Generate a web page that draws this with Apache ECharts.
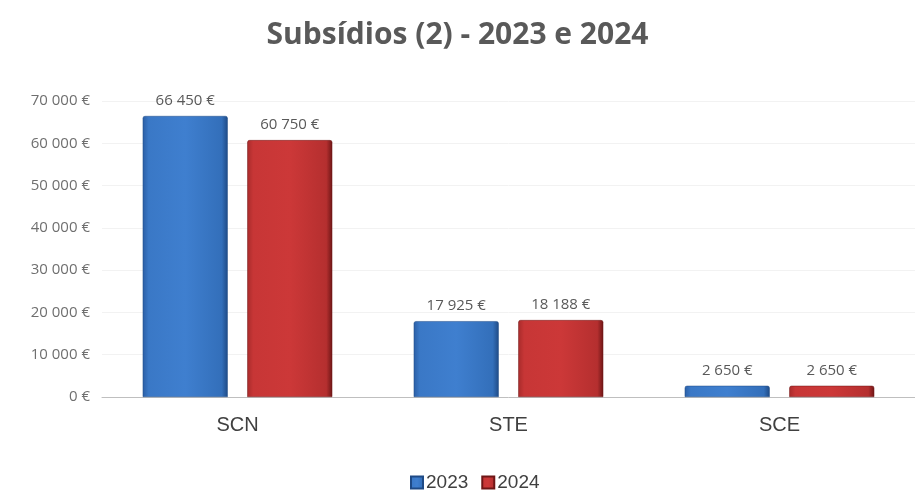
<!DOCTYPE html>
<html>
<head>
<meta charset="utf-8">
<script src="https://cdn.jsdelivr.net/npm/echarts@6/dist/echarts.min.js"></script>
<style>
html,body{margin:0;padding:0;background:#fff;}
#chart{width:915px;height:490px;}
</style>
</head>
<body>
<div id="chart"></div>
<script>
const categories = ['SCN', 'STE', 'SCE'];
const seriesNames = ['2023', '2024'];
const values2023 = [66450, 17925, 2650];
const values2024 = [60750, 18188, 2650];
const yTicks = [0, 10000, 20000, 30000, 40000, 50000, 60000, 70000];

function fmt(v) {
  return String(v).replace(/\B(?=(\d{3})+(?!\d))/g, ' ') + ' €';
}

const blueGrad = new echarts.graphic.LinearGradient(0, 0, 1, 0, [
  {offset: 0, color: '#2b5fa6'},
  {offset: 0.07, color: '#3a78c6'},
  {offset: 0.5, color: '#3f7fcf'},
  {offset: 0.93, color: '#336fba'},
  {offset: 1, color: '#1f4a85'}
]);
const redGrad = new echarts.graphic.LinearGradient(0, 0, 1, 0, [
  {offset: 0, color: '#a82b2b'},
  {offset: 0.07, color: '#c73636'},
  {offset: 0.5, color: '#cc3838'},
  {offset: 0.93, color: '#b52f2f'},
  {offset: 1, color: '#6e1616'}
]);

const labelStyle = {
  show: true,
  position: 'top',
  distance: 8,
  color: '#595959',
  fontSize: 15,
  fontFamily: 'Open Sans, sans-serif',
  formatter: p => fmt(p.value)
};

const chart = echarts.init(document.getElementById('chart'));
chart.setOption({
  animation: false,
  backgroundColor: '#fff',
  title: {
    text: 'Subsídios (2) - 2023 e 2024',
    left: 'center',
    top: 15,
    textStyle: {
      color: '#595959',
      fontSize: 30,
      fontWeight: 'bold',
      fontFamily: 'Open Sans, sans-serif'
    }
  },
  legend: {
    top: 473,
    left: 410,
    padding: 0,
    itemWidth: 12,
    itemHeight: 12,
    itemGap: 13,
    icon: 'rect',
    data: seriesNames,
    textStyle: {
      color: '#404040',
      fontSize: 19,
      padding: [0, 0, 0, -2],
      fontFamily: 'Liberation Sans Narrow, Arial Narrow, sans-serif'
    }
  },
  grid: {
    left: 102,
    top: 101,
    width: 820,
    height: 296,
    containLabel: false
  },
  xAxis: {
    type: 'category',
    data: categories,
    axisLine: {lineStyle: {color: '#bfbfbf', width: 1}},
    axisTick: {show: false},
    axisLabel: {
      color: '#404040',
      fontSize: 20,
      margin: 18,
      fontFamily: 'Liberation Sans Narrow, Arial Narrow, sans-serif'
    }
  },
  yAxis: {
    type: 'value',
    min: 0,
    max: 70000,
    interval: 10000,
    axisLine: {show: false},
    axisTick: {show: false},
    splitLine: {lineStyle: {color: '#f2f2f2'}},
    axisLabel: {
      color: '#6f6f6f',
      fontSize: 15,
      margin: 12,
      fontFamily: 'Open Sans, sans-serif',
      formatter: v => yTicks.includes(v) ? fmt(v) : ''
    }
  },
  series: [
    {
      name: seriesNames[0],
      type: 'bar',
      data: values2023,
      barWidth: 85,
      barGap: '23%',
      itemStyle: {color: blueGrad, borderColor: '#1f4a85', borderWidth: 0.5, borderRadius: [2, 2, 0, 0]},
      label: labelStyle
    },
    {
      name: seriesNames[1],
      type: 'bar',
      data: values2024,
      barWidth: 85,
      itemStyle: {color: redGrad, borderColor: '#6e1616', borderWidth: 0.5, borderRadius: [2, 2, 0, 0]},
      label: labelStyle
    }
  ]
});
</script>
</body>
</html>
